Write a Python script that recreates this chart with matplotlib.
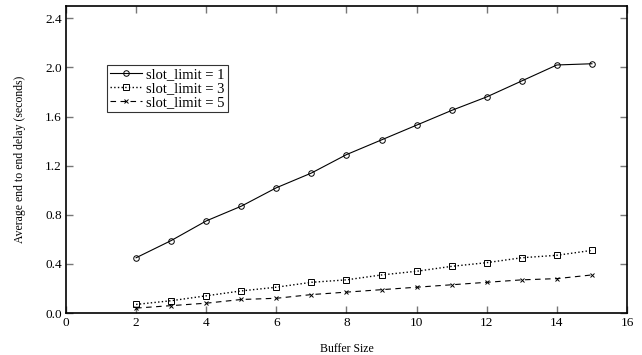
import matplotlib
matplotlib.use("Agg")
import matplotlib.pyplot as plt

buffer_size = [2, 3, 4, 5, 6, 7, 8, 9, 10, 11, 12, 13, 14, 15]
slot1 = [0.45, 0.59, 0.75, 0.87, 1.02, 1.14, 1.29, 1.41, 1.53, 1.65, 1.76, 1.89, 2.02, 2.03]
slot3 = [0.07, 0.10, 0.14, 0.18, 0.21, 0.25, 0.27, 0.31, 0.34, 0.38, 0.41, 0.45, 0.47, 0.51]
slot5 = [0.04, 0.06, 0.08, 0.11, 0.12, 0.15, 0.17, 0.19, 0.21, 0.23, 0.25, 0.27, 0.28, 0.31]
labels = ["slot_limit = 1", "slot_limit = 3", "slot_limit = 5"]
xticks = [0, 2, 4, 6, 8, 10, 12, 14, 16]
yticks = [0.0, 0.4, 0.8, 1.2, 1.6, 2.0, 2.4]

plt.rcParams['font.family'] = ['Liberation Serif', 'DejaVu Serif']
fig = plt.figure(figsize=(6.42, 3.55), dpi=100)
ax = fig.add_axes([0.1028, 0.1183, 0.8738, 0.8647])

ax.plot(buffer_size, slot1, '-', color='black', lw=0.8, marker='o', ms=4,
        mfc='none', mec='black', mew=0.7, label=labels[0])
ax.plot(buffer_size, slot3, ':', color='black', lw=1.0, marker='s', ms=3.8,
        mfc='none', mec='black', mew=0.7, label=labels[1])
ax.plot(buffer_size, slot5, '--', color='black', lw=0.8, marker='x', ms=3.5,
        mec='black', mew=0.7, label=labels[2], dashes=(5, 4))

ax.set_xlim(0, 16)
ax.set_ylim(0, 2.5)
ax.set_xticks(xticks)
ax.set_xticklabels([str(v) for v in xticks])
ax.set_yticks(yticks)
ax.set_yticklabels([f"{v:.1f}" for v in yticks])
ax.tick_params(direction='in', top=True, right=True, length=5, width=1,
               color='#777777', labelsize=9.5, pad=3)
for s in ax.spines.values():
    s.set_linewidth(1.2)

ax.set_xlabel("Buffer Size", fontsize=8.5, labelpad=10)
ax.set_ylabel("Average end to end delay (seconds)", fontsize=8.5, labelpad=14)

leg = ax.legend(loc='upper left', bbox_to_anchor=(0.073, 0.808), fontsize=10.5,
                frameon=True, fancybox=False, edgecolor='black',
                handlelength=2.2, handletextpad=0.3, borderpad=0.2,
                labelspacing=0.05, borderaxespad=0)
leg.get_frame().set_linewidth(0.8)

fig.savefig("out.png", dpi=100)
